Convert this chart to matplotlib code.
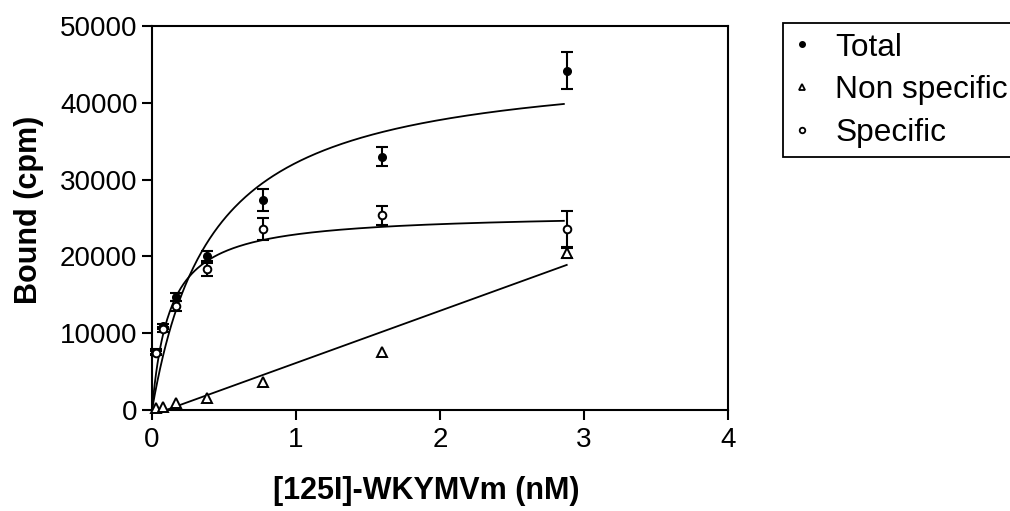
import numpy as np
import matplotlib
matplotlib.use("Agg")
import matplotlib.pyplot as plt
from matplotlib.lines import Line2D

plt.rcParams['font.family'] = ['Liberation Sans', 'DejaVu Sans']

# concentrations (nM)
conc = [0.031, 0.075, 0.17, 0.38, 0.77, 1.6, 2.88]

total = [7600, 10900, 14750, 20050, 27350, 33000, 44200]
total_err = [300, 300, 500, 600, 1400, 1250, 2350]

nonspec = [250, 350, 870, 1600, 3700, 7600, 20500]
nonspec_err = [0, 0, 0, 0, 0, 0, 700]

specific = [7400, 10500, 13550, 18300, 23550, 25350, 23550]
specific_err = [300, 300, 700, 800, 1400, 1250, 2400]

# fitted parameters
total_bmax, total_kd = 45700, 0.42
spec_bmax, spec_kd = 25700, 0.124
ns_slope, ns_intercept = 6790, -666

fig = plt.figure(figsize=(10.1, 5.11), dpi=100)
ax = fig.add_axes([152 / 1010, 1 - 410 / 511, 576 / 1010, 384 / 511])

xfit = np.linspace(0, max(conc) - 0.02, 300)
ax.plot(xfit, total_bmax * xfit / (total_kd + xfit), color='black', lw=1.3)
ax.plot(xfit, spec_bmax * xfit / (spec_kd + xfit), color='black', lw=1.3)
xns = np.linspace(-ns_intercept / ns_slope, max(conc), 50)
ax.plot(xns, ns_slope * xns + ns_intercept, color='black', lw=1.3)


def draw(x, y, err, **mk):
    x, y, err = np.array(x), np.array(y), np.array(err)
    m = err > 0
    ax.errorbar(x[m], y[m], yerr=err[m], fmt='none', ecolor='black', elinewidth=1.5,
                capsize=4, capthick=1.5, clip_on=False)
    ax.plot(x, y, ls='none', clip_on=False, zorder=3, **mk)


draw(conc, total, total_err, marker='o', ms=5.5, mfc='black', mec='black')
draw(conc, nonspec, nonspec_err, marker='^', ms=7, mfc='white', mec='black', mew=1.4)
draw(conc, specific, specific_err, marker='o', ms=5.5, mfc='white', mec='black', mew=1.4)

ax.set_xlim(0, 4)
ax.set_ylim(0, 50000)
ax.set_xticks([0, 1, 2, 3, 4])
ax.set_yticks(range(0, 50001, 10000))
for s in ax.spines.values():
    s.set_linewidth(1.5)
ax.tick_params(direction='out', length=7.5, width=1.5, labelsize=20)
ax.tick_params(axis='x', pad=5)
ax.tick_params(axis='y', pad=3)

ax.set_xlabel('[125I]-WKYMVm (nM)', fontsize=22, fontweight='bold')
ax.set_ylabel('Bound (cpm)', fontsize=22, fontweight='bold')
ax.xaxis.set_label_coords(0.476, -0.173)
ax.yaxis.set_label_coords(-0.187, 0.52)

handles = [
    Line2D([], [], ls='none', marker='o', ms=4, mfc='black', mec='black'),
    Line2D([], [], ls='none', marker='^', ms=5, mfc='white', mec='black', mew=1.3),
    Line2D([], [], ls='none', marker='o', ms=4, mfc='white', mec='black', mew=1.3),
]
labels = ['Total', 'Non specific', 'Specific']
leg = fig.legend(handles, labels, loc='upper left', bbox_to_anchor=(783 / 1010, 1 - 23 / 511),
                 frameon=True, fancybox=False, edgecolor='black', framealpha=1,
                 fontsize=22.8, handlelength=0.6, handletextpad=0.75, labelspacing=0.4,
                 borderaxespad=0, borderpad=0.3)
leg.get_frame().set_linewidth(1.3)

fig.savefig('out.png', dpi=100)
